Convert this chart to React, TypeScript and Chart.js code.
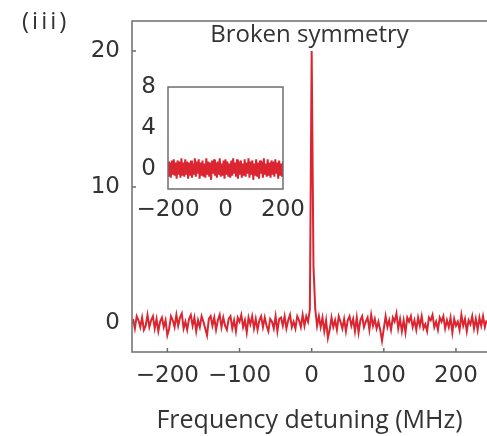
import React, { useEffect, useRef } from 'react';
import { Chart, registerables } from 'chart.js';

Chart.register(...registerables);

// ---- data ----
const MAIN_FREQ_START = -247.5;
const MAIN_FREQ_STEP = 2.5;
const MAIN_SIGNAL = [
  0.3, -0.4, 0.5, 0.2, -0.3, 0.4, -0.5, -0.2, 0.6, -0.3,
  0.2, 0.5, -0.4, 0.3, -0.6, 0.1, 0.4, -0.3, 0.2, -0.9,
  -0.4, 0.5, 0.2, -0.3, 0.6, -0.2, 0.4, 0.7, -0.4, 0.1,
  -0.5, 0.3, 0.6, -0.2, 0.4, -0.6, 0.2, -0.3, 0.5, 0.1,
  -0.4, -0.9, 0.3, 0.5, -0.2, 0.4, -0.5, 0.2, 0.6, -0.3,
  0.4, -0.2, -0.5, 0.3, 0.5, -0.4, 0.2, -0.6, 0.4, 0.1,
  0.6, -0.3, 0.2, -0.7, 0.4, -0.1, 0.5, -0.4, 0.3, -0.5,
  0.2, 0.5, -0.3, 0.4, -0.2, -0.6, 0.3, 0.1, -0.4, 0.5,
  -0.6, 0.3, 0.4, -0.2, 0.5, -0.4, 0.2, 0.6, -0.3, 0.1,
  -0.4, 0.5, 0.2, -0.3, 0.6, -0.2, 0.5, 0.1, 1.0, 20.0,
  4.2, 1.0, -0.2, 0.5, -0.3, 0.4, -0.6, 0.2, -1.1, -0.5,
  0.4, -0.3, 0.2, -0.5, 0.5, 0.1, -0.4, 0.3, -0.6, 0.2,
  0.5, -0.2, 0.3, -0.6, 0.4, -0.7, 0.2, 0.5, -0.3, 0.1,
  0.4, -0.5, 0.6, -0.2, 0.3, -0.4, 0.1, -0.5, -1.3, -0.4,
  0.5, -0.3, 0.2, -0.5, 0.4, 0.1, 0.7, -0.4, 0.3, -0.6,
  0.2, -0.7, 0.4, 0.1, 0.5, -0.3, 0.2, -0.5, 0.4, -0.2,
  0.5, -0.4, -0.1, -0.6, 0.4, 0.2, 0.6, -0.3, 0.1, -0.5,
  0.4, 0.1, 0.5, -0.4, 0.2, -0.3, 0.4, -0.7, 0.3, -0.2,
  0.1, -0.5, 0.6, -0.2, 0.3, -0.6, 0.2, -0.1, 0.5, -0.4,
  0.3, -0.5, 0.4, -0.2, 0.5, -0.3, 0.2,
];

const INSET_FREQ_START = -200;
const INSET_FREQ_STEP = 400 / 120;
const INSET_SIGNAL = [
  0.7, -0.8, 0.6, -0.9, 0.8, -0.6, 0.9, -0.7, 0.6, -1.0,
  0.8, -0.6, 0.7, -0.9, 1.0, -0.7, 0.6, -0.8, 0.9, -0.6,
  0.7, -1.0, 0.6, -0.7, 0.8, -0.9, 0.5, -0.6, 1.0, -0.8,
  0.7, -0.5, 0.9, -1.0, 0.6, -0.7, 0.8, -0.8, 0.5, -0.9,
  1.0, -0.6, 0.7, -0.8, 0.6, -1.1, 0.8, -0.5, 0.9, -0.7,
  0.6, -0.9, 0.7, -0.6, 1.0, -0.8, 0.5, -0.7, 0.8, -1.0,
  0.9, -0.6, 0.7, -0.8, 0.5, -0.9, 0.8, -0.7, 1.0, -0.5,
  0.6, -0.8, 0.9, -1.0, 0.7, -0.6, 0.8, -0.9, 0.5, -0.7,
  0.9, -0.8, 0.6, -0.5, 1.0, -0.9, 0.7, -0.6, 0.8, -1.1,
  0.5, -0.7, 0.9, -0.8, 0.6, -1.0, 0.8, -0.5, 0.7, -0.9,
  1.0, -0.6, 0.5, -0.8, 0.9, -0.7, 0.6, -0.9, 0.8, -0.6,
  0.7, -0.8, 0.9, -0.5, 0.6, -1.0, 0.8, -0.7, 0.5, -0.8,
  0.7,
];

const MAIN_X_TICKS = [-200, -100, 0, 100, 200];
const MAIN_Y_TICKS = [0, 10, 20];
const INSET_X_TICKS = [-200, 0, 200];
const INSET_Y_TICKS = [0, 4, 8];

const PANEL_LABEL = '(iii)';
const PANEL_TITLE = 'Broken symmetry';
const X_TITLE = 'Frequency detuning (MHz)';

// ---- styles ----
const RED = '#db2530';
const FRAME = '#6e6e6e';
const TEXT = '#333333';
const NUM_FONT = { family: '"DejaVu Sans"', size: 23 };
const TXT_FAMILY = '"Open Sans"';

const fmt = (v: number) => (v < 0 ? '\u2212' + Math.abs(v) : String(v));

const zeroPad = (s: any) => {
  s.paddingTop = 0;
  s.paddingBottom = 0;
  s.paddingLeft = 0;
  s.paddingRight = 0;
};

const mainFramePlugin = {
  id: 'mainFrame',
  afterDraw(chart: any) {
    const { ctx, chartArea } = chart;
    const { left, right, top, bottom } = chartArea;
    ctx.save();
    ctx.strokeStyle = FRAME;
    ctx.lineWidth = 1.5;
    ctx.beginPath();
    ctx.moveTo(right + 2, top);
    ctx.lineTo(left, top);
    ctx.lineTo(left, bottom);
    ctx.lineTo(right + 2, bottom);
    ctx.stroke();
    // inward tick marks
    const xs = chart.scales.x;
    const ys = chart.scales.y;
    ctx.beginPath();
    MAIN_X_TICKS.forEach((v) => {
      const p = xs.getPixelForValue(v);
      ctx.moveTo(p, bottom);
      ctx.lineTo(p, bottom - 4);
    });
    MAIN_Y_TICKS.forEach((v) => {
      const p = ys.getPixelForValue(v);
      ctx.moveTo(left, p);
      ctx.lineTo(left + 4, p);
    });
    ctx.stroke();
    // texts
    ctx.fillStyle = TEXT;
    ctx.font = `24px ${TXT_FAMILY}`;
    ctx.textBaseline = 'alphabetic';
    ctx.textAlign = 'center';
    ctx.fillText(PANEL_TITLE, (left + right) / 2, 42);
    ctx.textAlign = 'left';
    try { (ctx as any).letterSpacing = '3px'; } catch (e) {}
    ctx.fillText(PANEL_LABEL, 22, 29);
    try { (ctx as any).letterSpacing = '0px'; } catch (e) {}
    ctx.restore();
  },
};

const insetFramePlugin = {
  id: 'insetFrame',
  afterDraw(chart: any) {
    const { ctx, chartArea } = chart;
    ctx.save();
    ctx.strokeStyle = FRAME;
    ctx.lineWidth = 1.5;
    ctx.strokeRect(chartArea.left, chartArea.top, chartArea.right - chartArea.left, chartArea.bottom - chartArea.top);
    ctx.restore();
  },
};

export default function App() {
  const mainRef = useRef<HTMLCanvasElement>(null);
  const insetRef = useRef<HTMLCanvasElement>(null);

  useEffect(() => {
    const main = new Chart(mainRef.current!, {
      type: 'line',
      data: {
        datasets: [
          {
            data: MAIN_SIGNAL.map((y, i) => ({ x: MAIN_FREQ_START + i * MAIN_FREQ_STEP, y })),
            borderColor: RED,
            borderWidth: 2,
            pointRadius: 0,
            tension: 0,
          },
        ],
      },
      options: {
        responsive: false,
        animation: false,
        events: [],
        layout: { padding: { top: 21, left: 0, right: 0, bottom: 0 } },
        plugins: { legend: { display: false }, tooltip: { enabled: false } },
        scales: {
          x: {
            type: 'linear',
            min: -249,
            max: 243,
            afterBuildTicks: (s: any) => { s.ticks = MAIN_X_TICKS.map((v) => ({ value: v })); },
            afterFit: (s: any) => { s.height = 84; zeroPad(s); },
            grid: { display: false, drawTicks: false },
            border: { display: false },
            ticks: { padding: 10, font: NUM_FONT, color: TEXT, callback: (v: any) => fmt(Number(v)), maxRotation: 0, autoSkip: false },
            title: { display: true, text: X_TITLE, color: TEXT, font: { family: TXT_FAMILY, size: 25 }, padding: { top: 0, bottom: 0 } },
          },
          y: {
            type: 'linear',
            min: -2.13,
            max: 22.2,
            afterBuildTicks: (s: any) => { s.ticks = MAIN_Y_TICKS.map((v) => ({ value: v })); },
            afterFit: (s: any) => { s.width = 132; zeroPad(s); },
            grid: { display: false, drawTicks: false },
            border: { display: false },
            ticks: { padding: 12, font: NUM_FONT, color: TEXT, callback: (v: any) => fmt(Number(v)) },
          },
        },
      },
      plugins: [mainFramePlugin],
    });

    const inset = new Chart(insetRef.current!, {
      type: 'line',
      data: {
        datasets: [
          {
            data: INSET_SIGNAL.map((y, i) => ({ x: INSET_FREQ_START + i * INSET_FREQ_STEP, y })),
            borderColor: RED,
            borderWidth: 2,
            pointRadius: 0,
            tension: 0,
          },
        ],
      },
      options: {
        responsive: false,
        animation: false,
        events: [],
        layout: { padding: { top: 15, left: 0, right: 32, bottom: 0 } },
        plugins: { legend: { display: false }, tooltip: { enabled: false } },
        scales: {
          x: {
            type: 'linear',
            min: -200,
            max: 200,
            afterBuildTicks: (s: any) => { s.ticks = INSET_X_TICKS.map((v) => ({ value: v })); },
            afterFit: (s: any) => { s.height = 43; zeroPad(s); },
            grid: { display: false, drawTicks: false },
            border: { display: false },
            ticks: { padding: 7, font: NUM_FONT, color: TEXT, callback: (v: any) => fmt(Number(v)), maxRotation: 0, autoSkip: false },
          },
          y: {
            type: 'linear',
            min: -2,
            max: 8,
            afterBuildTicks: (s: any) => { s.ticks = INSET_Y_TICKS.map((v) => ({ value: v })); },
            afterFit: (s: any) => { s.width = 68; zeroPad(s); },
            grid: { display: false, drawTicks: false },
            border: { display: false },
            ticks: { padding: 12, font: NUM_FONT, color: TEXT, callback: (v: any) => fmt(Number(v)) },
          },
        },
      },
      plugins: [insetFramePlugin],
    });

    return () => {
      main.destroy();
      inset.destroy();
    };
  }, []);

  return (
    <div style={{ position: 'fixed', left: 0, top: 0, width: 487, height: 436, background: '#fff', overflow: 'hidden' }}>
      <canvas ref={mainRef} width={487} height={436} style={{ position: 'absolute', left: 0, top: 0, width: 487, height: 436 }} />
      <canvas ref={insetRef} width={215} height={160} style={{ position: 'absolute', left: 100, top: 72, width: 215, height: 160 }} />
    </div>
  );
}
